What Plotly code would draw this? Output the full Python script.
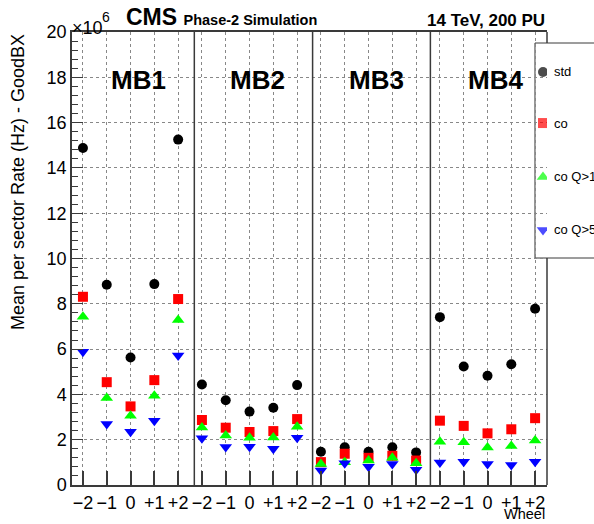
import numpy as np
import plotly.graph_objects as go

# ---------------- data (rates in units of 10^6 Hz) ----------------
stations = ["MB1", "MB2", "MB3", "MB4"]
wheels = ["\u22122", "\u22121", "0", "+1", "+2"]

rate_std = [14.88, 8.84, 5.63, 8.87, 15.25,
            4.44, 3.74, 3.24, 3.41, 4.41,
            1.47, 1.67, 1.47, 1.67, 1.44,
            7.41, 5.23, 4.82, 5.33, 7.78]
rate_co = [8.31, 4.54, 3.47, 4.63, 8.21,
           2.87, 2.53, 2.34, 2.38, 2.91,
           1.01, 1.38, 1.20, 1.29, 1.08,
           2.84, 2.61, 2.28, 2.46, 2.95]
rate_co_q1 = [7.43, 3.84, 3.06, 3.94, 7.28,
              2.54, 2.19, 2.09, 2.10, 2.57,
              0.93, 1.00, 1.08, 1.20, 0.96,
              1.91, 1.89, 1.66, 1.72, 1.96]
rate_co_q5 = [5.88, 2.69, 2.35, 2.84, 5.72,
              2.06, 1.68, 1.69, 1.60, 2.09,
              0.64, 0.96, 0.81, 0.93, 0.67,
              0.99, 1.03, 0.93, 0.88, 1.03]

series_names = ["std", "co", "co Q>1", "co Q>5"]
series_values = [rate_std, rate_co, rate_co_q1, rate_co_q5]
series_symbols = ["circle", "square", "triangle-up", "triangle-down"]
series_colors = ["#000000", "#ff0000", "#00ff00", "#0000ff"]
series_sizes = [10, 10, 11, 11]

tick_labels = wheels * len(stations)
x_pos = np.arange(len(tick_labels))
separators = [4.68, 9.65, 14.6]

FONT = "Liberation Sans, Arial, sans-serif"
FRAME = "#3a3a3a"

fig = go.Figure()
for name, vals, sym, col, sz in zip(series_names, series_values, series_symbols,
                                    series_colors, series_sizes):
    fig.add_trace(go.Scatter(x=x_pos, y=vals, mode="markers", name=name,
                             marker=dict(symbol=sym, color=col, size=sz, line=dict(width=0)),
                             showlegend=False))

# legend keys on an overlay axis (0..1 both ways)
key_x = 0.9916
key_y = [0.9117, 0.799, 0.680, 0.563]
fig.add_trace(go.Scatter(x=[key_x] * 4, y=key_y, xaxis="x2", yaxis="y2", mode="markers",
                         marker=dict(symbol=series_symbols, color=series_colors,
                                     size=series_sizes, line=dict(width=0)),
                         showlegend=False, hoverinfo="skip"))

shapes = []
for s in separators:
    shapes.append(dict(type="line", xref="x", yref="paper", x0=s, x1=s, y0=0, y1=1,
                       line=dict(color=FRAME, width=1.5), layer="above"))
# legend box
shapes.append(dict(type="rect", xref="paper", yref="paper", x0=0.9747, x1=1.3,
                   y0=0.5011, y1=0.9757, fillcolor="white",
                   line=dict(color=FRAME, width=1), layer="between"))
# right frame segments (legend box hides the middle)
shapes.append(dict(type="line", xref="paper", yref="paper", x0=1, x1=1, y0=0.9757, y1=1,
                   line=dict(color=FRAME, width=1.5), layer="above"))
shapes.append(dict(type="line", xref="paper", yref="paper", x0=1, x1=1, y0=0, y1=0.5011,
                   line=dict(color=FRAME, width=1.5), layer="above"))

annotations = []
for k, st in enumerate(stations):
    annotations.append(dict(x=5 * k + 2.35, y=17.9, xref="x", yref="y", text="<b>%s</b>" % st,
                            showarrow=False, font=dict(family=FONT, size=26, color="black"),
                            xanchor="center", yanchor="middle"))
for name, yk in zip(series_names, key_y):
    annotations.append(dict(x=1.0105, y=yk, xref="paper", yref="paper", text=name,
                            showarrow=False, font=dict(family=FONT, size=13, color="black"),
                            xanchor="left", yanchor="middle"))
annotations += [
    dict(x=0.109, y=1.0, xref="paper", yref="paper", yanchor="bottom", xanchor="left",
         text="<b><span style='font-size:23px'>CMS</span> <span style='font-size:14.5px'>Phase-2 Simulation</span></b>",
         showarrow=False, font=dict(family=FONT, size=23, color="black")),
    dict(x=1.0, y=1.0, xref="paper", yref="paper", yanchor="bottom", xanchor="right",
         text="<b>14 TeV, 200 PU</b>", showarrow=False,
         font=dict(family=FONT, size=17, color="black")),
    dict(x=-0.004, y=1.009, xref="paper", yref="paper", yanchor="middle", xanchor="left",
         text="\u00d710", showarrow=False,
         font=dict(family=FONT, size=18, color="black")),
    dict(x=0.058, y=1.033, xref="paper", yref="paper", yanchor="middle", xanchor="left",
         text="6", showarrow=False,
         font=dict(family=FONT, size=14, color="black")),
    dict(x=-0.1137, y=1.0, xref="paper", yref="paper", yanchor="top", xanchor="center",
         text="Mean per sector Rate (Hz) - GoodBX", textangle=-90, showarrow=False,
         font=dict(family=FONT, size=18, color="black")),
    dict(x=1.0, y=-0.0861, xref="paper", yref="paper", yanchor="bottom", xanchor="right",
         text="Wheel", showarrow=False, font=dict(family=FONT, size=14.5, color="black")),
]

fig.update_layout(
    width=594, height=524,
    margin=dict(l=72, r=47, t=32, b=39, autoexpand=False),
    paper_bgcolor="white", plot_bgcolor="white",
    font=dict(family=FONT, color="black"),
    showlegend=False,
    xaxis=dict(range=[-0.46, 19.5], tickmode="array", tickvals=x_pos, ticktext=tick_labels,
               ticks="inside", ticklen=14, tickwidth=1.5, tickcolor=FRAME,
               tickfont=dict(family=FONT, size=18, color="black"), ticklabelstandoff=1,
               showgrid=True, gridcolor="#888888", griddash="dot", gridwidth=1,
               showline=True, linecolor=FRAME, linewidth=1.5, mirror=True,
               zeroline=False),
    yaxis=dict(range=[0, 20], tickmode="array", tickvals=list(range(0, 21, 2)),
               ticktext=[str(v) for v in range(0, 21, 2)],
               ticks="inside", ticklen=11, tickwidth=1, tickcolor=FRAME,
               tickfont=dict(family=FONT, size=18, color="black"),
               minor=dict(dtick=0.4, ticks="inside", ticklen=6, tickcolor=FRAME, showgrid=False),
               showgrid=True, gridcolor="#888888", griddash="dot", gridwidth=1,
               showline=True, linecolor=FRAME, linewidth=1.5, mirror=False,
               zeroline=False),
    xaxis2=dict(overlaying="x", range=[0, 1], visible=False, anchor="y2"),
    yaxis2=dict(overlaying="y", range=[0, 1], visible=False, anchor="x2"),
    shapes=shapes,
    annotations=annotations,
)

fig.write_html("out.html", config={"displayModeBar": False},
               post_script="document.body.style.margin='0px';document.body.style.overflow='hidden';")
